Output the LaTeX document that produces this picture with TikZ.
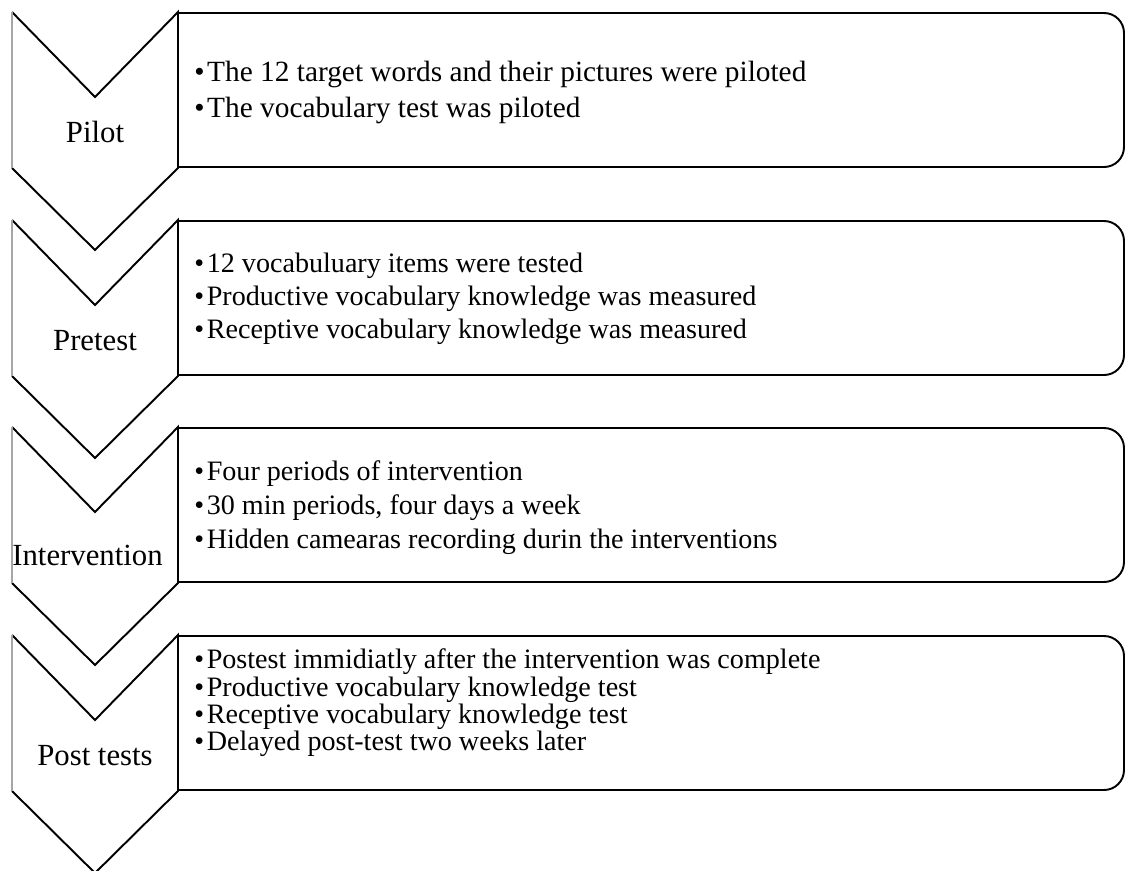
\documentclass[tikz,border=0pt]{standalone}
\usepackage{fontspec}
\setmainfont{Liberation Serif}
\begin{document}
\begin{tikzpicture}[x=0.02cm,y=-0.02cm,
  edge/.style={line width=1.1pt,line join=miter},
  sidebar/.style={gray!70,line width=0.8pt},
  stage/.style={font=\fontsize{17.5}{20}\selectfont,inner sep=0pt},
  items/.style={align=left,anchor=north west,inner sep=0pt}]
\useasboundingbox (0,0) rectangle (1126,870);
% chevrons and boxes
\foreach \t in {12,220,427,635}{
  \draw[edge,rounded corners=0.4cm] (178,\t+1) -- (1124,\t+1) -- (1124,\t+155) -- (178,\t+155);
  \draw[edge] (12,\t) -- (95,\t+85) -- (178,\t) -- (178,\t+156) -- (95,\t+238) -- (12,\t+156);
  \draw[sidebar] (12,\t) -- (12,\t+156);
}
% stage names
\node[stage,anchor=base] (pilot) at (95,142) {Pilot};
\node[stage,anchor=base] (pretest) at (95,350) {Pretest};
\node[stage,anchor=base west] (intervention) at (12,565) {Intervention};
\node[stage,anchor=base] (posttests) at (95,765) {Post tests};
% items
\node[items,font=\fontsize{16.7}{20.4}\selectfont] (pilotitems) at (194,60.6)
  {•\hspace{1.5pt}The 12 target words and their pictures were piloted\\
   •\hspace{1.5pt}The vocabulary test was piloted};
\node[items,font=\fontsize{16}{18.7}\selectfont] (pretestitems) at (194,252.7)
  {•\hspace{1.5pt}12 vocabuluary items were tested\\
   •\hspace{1.5pt}Productive vocabulary knowledge was measured\\
   •\hspace{1.5pt}Receptive vocabulary knowledge was measured};
\node[items,font=\fontsize{16}{19.3}\selectfont] (interventionitems) at (194,460.7)
  {•\hspace{1.5pt}Four periods of intervention\\
   •\hspace{1.5pt}30 min periods, four days a week\\
   •\hspace{1.5pt}Hidden camearas recording durin the interventions};
\node[items,font=\fontsize{16}{13.4}\selectfont] (posttestsitems) at (194,648.7)
  {•\hspace{1.5pt}Postest immidiatly after the intervention was complete\\
   •\hspace{1.5pt}Productive vocabulary knowledge test\\
   •\hspace{1.5pt}Receptive vocabulary knowledge test\\
   •\hspace{1.5pt}Delayed post-test two weeks later};
\end{tikzpicture}
\end{document}
